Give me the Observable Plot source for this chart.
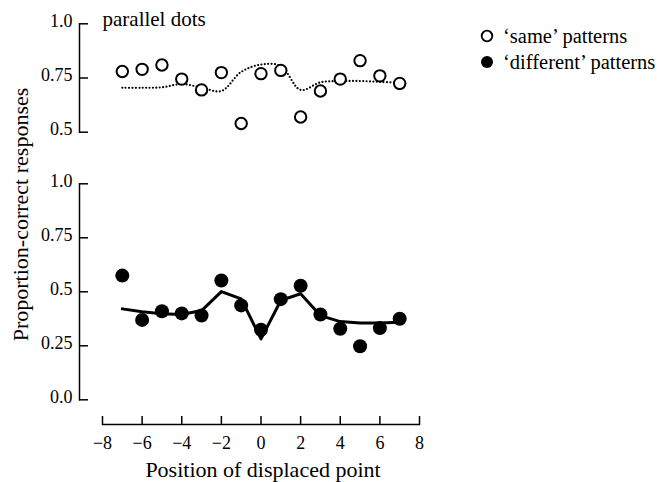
<!DOCTYPE html>
<html><head><meta charset="utf-8">
<script src="https://cdn.jsdelivr.net/npm/d3@7"></script>
<script src="https://cdn.jsdelivr.net/npm/@observablehq/plot@0.6"></script>
<style>
body{margin:0;background:#fff;}
#wrap{position:relative;width:665px;height:482px;color:#000;background:#fff;}
#wrap, #wrap *{font-family:"Liberation Serif","Times New Roman","DejaVu Serif",serif !important;}
#wrap > svg{position:absolute;left:0;top:0;}
.leg{position:absolute;left:480px;top:23px;font-size:20.5px;line-height:26px;}
.row{display:flex;align-items:center;height:26px;white-space:nowrap;}
.row svg{margin-right:9px;}
</style></head><body><div id="wrap"></div><script>
// ---- data ----
const positions = [-7, -6, -5, -4, -3, -2, -1, 0, 1, 2, 3, 4, 5, 6, 7];
const sameObserved = [0.78, 0.79, 0.81, 0.745, 0.695, 0.775, 0.54, 0.77, 0.785, 0.57, 0.69, 0.745, 0.83, 0.76, 0.725];
const sameFit      = [0.705, 0.705, 0.707, 0.722, 0.706, 0.69, 0.778, 0.812, 0.805, 0.695, 0.73, 0.736, 0.736, 0.732, 0.728];
const diffObserved = [0.575, 0.37, 0.41, 0.40, 0.39, 0.552, 0.437, 0.324, 0.466, 0.528, 0.395, 0.329, 0.248, 0.332, 0.375];
const diffFit      = [0.421, 0.408, 0.398, 0.395, 0.413, 0.501, 0.467, 0.282, 0.46, 0.491, 0.39, 0.362, 0.355, 0.355, 0.359];
const xTicks = [-8, -6, -4, -2, 0, 2, 4, 6, 8];
const xTickLabels = ["\u22128", "\u22126", "\u22124", "\u22122", "0", "2", "4", "6", "8"];
const yTicksTop = [0.5, 0.75, 1.0];
const yTickLabelsTop = ["0.5", "0.75", "1.0"];
const yTicksBottom = [0, 0.25, 0.5, 0.75, 1.0];
const yTickLabelsBottom = ["0.0", "0.25", "0.5", "0.75", "1.0"];
const panelTitle = "parallel dots";
const xTitle = "Position of displaced point";
const yTitle = "Proportion-correct responses";
const legendItems = ["\u2018same\u2019 patterns", "\u2018different\u2019 patterns"];

const sameRows = positions.map((x, i) => ({x, obs: sameObserved[i], fit: sameFit[i]}));
const diffRows = positions.map((x, i) => ({x, obs: diffObserved[i], fit: diffFit[i]}));

const W = 665, H = 482;
const plotStyle = {fontFamily: "'Liberation Serif', 'Times New Roman', serif", fontSize: "18px", color: "#000", background: "transparent", overflow: "visible"};
const fmt = (ticks, labels) => d => labels[ticks.indexOf(d)];

// ---- top panel ----
const topPanel = Plot.plot({
  width: W, height: 150,
  marginLeft: 79, marginRight: 246, marginTop: 23.3, marginBottom: 18.3,
  style: plotStyle,
  x: {domain: [-8, 8], insetLeft: 23, axis: null},
  y: {domain: [0.5, 1.0], axis: null},
  marks: [
    Plot.frame({anchor: "left", strokeWidth: 1.5}),
    Plot.tickY(yTicksTop, {y: d => d, insetRight: 331, strokeWidth: 1.5}),
    Plot.axisY(yTicksTop, {tickSize: 0, tickPadding: 7, dy: -2.5, tickFormat: fmt(yTicksTop, yTickLabelsTop), label: null}),
    Plot.text([panelTitle], {frameAnchor: "top-left", textAnchor: "start", lineAnchor: "bottom", dx: 23, dy: 1.7, fontSize: 21}),
    Plot.line(sameRows, {x: "x", y: "fit", curve: "catmull-rom", stroke: "#000", strokeWidth: 2.2, strokeDasharray: "0,3.4", strokeLinecap: "round"}),
    Plot.dot(sameRows, {x: "x", y: "obs", r: 5.7, fill: "#fff", stroke: "#000", strokeWidth: 2})
  ]
});

// ---- bottom panel ----
const bottomPanel = Plot.plot({
  width: W, height: H,
  marginLeft: 79, marginRight: 246, marginTop: 183.3, marginBottom: 58,
  style: plotStyle,
  x: {domain: [-8, 8], insetLeft: 23, axis: null},
  y: {domain: [0, 1.0], insetBottom: 24.7, axis: null},
  marks: [
    Plot.frame({anchor: "left", insetBottom: 24.7, strokeWidth: 1.5}),
    Plot.tickY(yTicksBottom, {y: d => d, insetRight: 331, strokeWidth: 1.5}),
    Plot.axisY(yTicksBottom, {tickSize: 0, tickPadding: 7, dy: -2.5, tickFormat: fmt(yTicksBottom, yTickLabelsBottom), label: null}),
    Plot.frame({anchor: "bottom", insetLeft: 23, strokeWidth: 1.5}),
    Plot.tickX(xTicks, {x: d => d, insetTop: 232.7, strokeWidth: 1.5}),
    Plot.axisX(xTicks, {tickSize: 0, tickPadding: 12, tickFormat: fmt(xTicks, xTickLabels), label: null}),
    Plot.text([xTitle], {x: [0], frameAnchor: "bottom", lineAnchor: "bottom", dx: 2, dy: 52, fontSize: 22}),
    Plot.text([yTitle], {frameAnchor: "top-left", rotate: -90, textAnchor: "middle", lineAnchor: "bottom", dx: -52, dy: 30.7, fontSize: 22}),
    Plot.line(diffRows, {x: "x", y: "fit", stroke: "#000", strokeWidth: 3}),
    Plot.dot(diffRows, {x: "x", y: "obs", r: 7, fill: "#000"})
  ]
});

const wrap = document.getElementById("wrap");
wrap.appendChild(bottomPanel);
wrap.appendChild(topPanel);

// ---- legend ----
const leg = document.createElement("div");
leg.className = "leg";
legendItems.forEach((label, i) => {
  const row = document.createElement("div");
  row.className = "row";
  const filled = i === 1;
  row.innerHTML = `<svg width="14" height="14" viewBox="0 0 14 14"><circle cx="7" cy="7" r="${filled ? 6 : 5.3}" fill="${filled ? "#000" : "#fff"}" stroke="#000" stroke-width="${filled ? 0 : 1.8}"/></svg>`;
  const span = document.createElement("span");
  span.textContent = label;
  row.appendChild(span);
  leg.appendChild(row);
});
wrap.appendChild(leg);
</script></body></html>
